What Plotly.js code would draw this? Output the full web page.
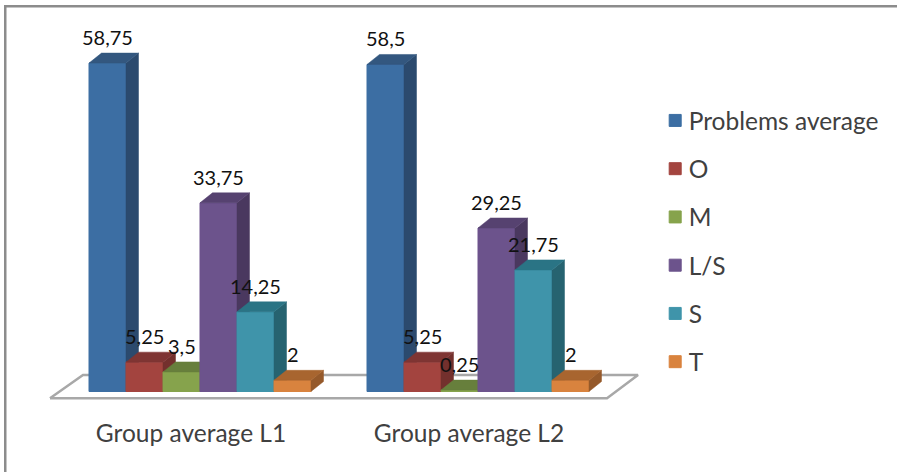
<!DOCTYPE html>
<html>
<head>
<meta charset="utf-8">
<script src="https://cdn.plot.ly/plotly-3.0.1.min.js"></script>
<style>html,body{margin:0;padding:0;background:#fff;overflow:hidden}#chart{width:897px;height:472px}</style>
</head>
<body>
<div id="chart"></div>
<script>
// Problem counts per group, one array per series.
const groups = ['Group average L1', 'Group average L2'];
const seriesNames = ['Problems average', 'O', 'M', 'L/S', 'S', 'T'];
const problemsAverage = [58.75, 58.5];
const o = [5.25, 5.25];
const m = [3.5, 0.25];
const ls = [33.75, 29.25];
const s = [14.25, 21.75];
const t = [2, 2];
const seriesValues = [problemsAverage, o, m, ls, s, t];

// Face colours of each box: front, side, top.
const frontColors = ['#3c6ea3', '#a3443f', '#86a34c', '#6c538c', '#3f94aa', '#d9833e'];
const sideColors = ['#2b4a6e', '#73302d', '#5d7334', '#4a385f', '#266370', '#95592a'];
const topColors = ['#33577f', '#7f3533', '#677f3c', '#564270', '#2a7485', '#a8652f'];

// Extrusion of the boxes and extent of the floor, in axis units.
const W = 897, H = 472;
const PLOT_BOTTOM = 402;
const PX_PER_X = 278, PX_PER_Y = 5.59;
const ZERO_X = 200, ZERO_Y = 391.5;
const barWidth = 37 / PX_PER_X;
const depthX = 12.5 / PX_PER_X, depthY = 10 / PX_PER_Y;
const floorFront = -6.7 / PX_PER_Y, floorBack = 16.5 / PX_PER_Y;
const floorXs = [(50 - ZERO_X) / PX_PER_X, (607 - ZERO_X) / PX_PER_X, (638 - ZERO_X) / PX_PER_X, (83 - ZERO_X) / PX_PER_X];
const labelShiftX = -9 / PX_PER_X;

const groupCentres = groups.map((_, g) => g);
const slot = i => (i - 2.5) * barWidth;
const comma = v => String(v).replace('.', ',');

const traces = [{
  type: 'scatter', mode: 'lines', fill: 'toself', fillcolor: '#ffffff',
  x: [...floorXs, floorXs[0]],
  y: [floorFront, floorFront, floorBack, floorBack, floorFront],
  line: {color: '#a8a8a8', width: 2.5}, showlegend: false, hoverinfo: 'skip', zorder: 0
}];

seriesValues.forEach((values, i) => {
  const lefts = groupCentres.map(c => c + slot(i) - barWidth / 2);
  // Front faces come from the bars themselves.
  traces.push({
    type: 'bar', name: seriesNames[i], legendgroup: seriesNames[i],
    x: groupCentres.map(c => c + slot(i)), y: values, width: barWidth,
    marker: {color: frontColors[i], line: {color: frontColors[i], width: 1}},
    zorder: 1 + 2 * i
  });
  // Side and top faces are parallelograms derived from the same values.
  const sx = [], sy = [], tx = [], ty = [];
  values.forEach((v, g) => {
    const r = lefts[g] + barWidth;
    sx.push(r, r + depthX, r + depthX, r, r, null);
    sy.push(0, depthY, v + depthY, v, 0, null);
    tx.push(lefts[g], lefts[g] + depthX, r + depthX, r, lefts[g], null);
    ty.push(v, v + depthY, v + depthY, v, v, null);
  });
  [[sx, sy, sideColors[i]], [tx, ty, topColors[i]]].forEach(([x, y, col]) => traces.push({
    type: 'scatter', mode: 'lines', fill: 'toself', fillcolor: col, x, y,
    line: {color: col, width: 0.5}, showlegend: false, hoverinfo: 'skip', zorder: 2 + 2 * i
  }));
});

// Value labels sit just above each box.
const annotations = [];
seriesValues.forEach((values, i) => values.forEach((v, g) => annotations.push({
  x: groupCentres[g] + slot(i), y: v, xref: 'x', yref: 'y', text: comma(v),
  showarrow: false, yshift: 26, yanchor: 'middle',
  font: {family: 'Lato', size: 20, color: '#111111'}
})));

const layout = {
  width: W, height: H,
  margin: {l: 0, r: 0, t: 0, b: H - PLOT_BOTTOM, autoexpand: false},
  paper_bgcolor: '#ffffff', plot_bgcolor: 'rgba(0,0,0,0)',
  barmode: 'overlay', font: {family: 'Lato'},
  xaxis: {
    range: [-ZERO_X / PX_PER_X, (W - ZERO_X) / PX_PER_X], fixedrange: true,
    showgrid: false, zeroline: false, showline: false,
    tickmode: 'array', tickvals: groupCentres.map(c => c + labelShiftX), ticktext: groups,
    ticks: '', ticklabelstandoff: 14,
    tickfont: {family: 'Lato', size: 24.5, color: '#404040'}
  },
  yaxis: {
    range: [(ZERO_Y - PLOT_BOTTOM) / PX_PER_Y, ZERO_Y / PX_PER_Y], fixedrange: true,
    visible: false
  },
  legend: {
    x: 654.7 / W, y: 1 - 98 / PLOT_BOTTOM, xanchor: 'left', yanchor: 'top',
    indentation: -6, tracegroupgap: 13.4, traceorder: 'grouped',
    font: {family: 'Lato', size: 24.5, color: '#404040'},
    itemclick: false, itemdoubleclick: false
  },
  annotations
};

// Outer frame: top and left rules only.
layout.shapes = [
  {type: 'rect', xref: 'paper', yref: 'paper', x0: 4 / W, x1: 1, y0: 1 - 5 / PLOT_BOTTOM, y1: 1 - 7.5 / PLOT_BOTTOM,
   fillcolor: '#8c8c8c', line: {width: 0}},
  {type: 'rect', xref: 'paper', yref: 'paper', x0: 4 / W, x1: 6.5 / W, y0: 1 - 5 / PLOT_BOTTOM, y1: 1 - H / PLOT_BOTTOM,
   fillcolor: '#8c8c8c', line: {width: 0}}
];

Plotly.newPlot('chart', traces, layout, {displayModeBar: false}).then(gd => {
  // Bring the legend swatches closer to their labels.
  gd.querySelectorAll('.legend .legendpoints').forEach(g => {
    const prev = g.getAttribute('transform') || '';
    g.setAttribute('transform', 'translate(6.5,0) ' + prev);
  });
});
</script>
</body>
</html>
